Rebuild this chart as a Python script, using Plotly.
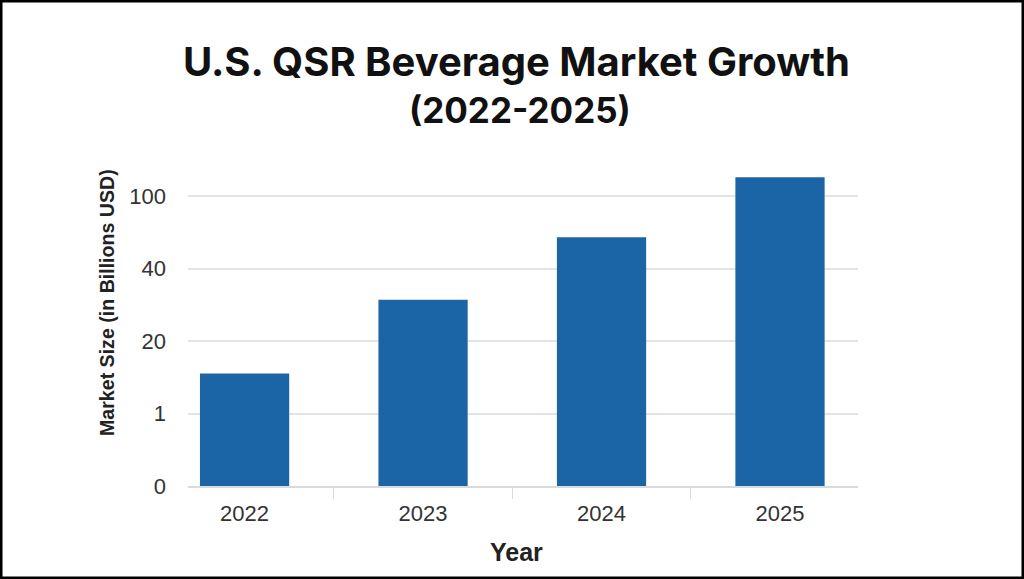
import plotly.graph_objects as go

years = ["2022", "2023", "2024", "2025"]
# Heights on the chart's evenly spaced (non-linear) axis: position 0,1,2,3,4 = labels 0,1,20,40,100
bar_positions = [1.55, 2.57, 3.43, 4.26]
tick_positions = [0, 1, 2, 3, 4]
tick_labels = ["0", "1", "20", "40", "100"]

W, H = 1024, 579
fig = go.Figure(go.Bar(x=years, y=bar_positions, width=0.5, marker=dict(color="#1B64A6", line=dict(width=0))))

fig.update_layout(
    template="none",
    width=W, height=H, autosize=False,
    margin=dict(l=0, r=0, t=0, b=0, pad=0),
    paper_bgcolor="white", plot_bgcolor="white",
    showlegend=False,
    title=dict(
        text="<b>U.S. QSR Beverage Market Growth</b>",
        x=516.5 / W, xanchor="center", y=1 - 62 / H, yanchor="middle",
        font=dict(family="Inter, Roboto, sans-serif", size=40, color="#111111"),
    ),
    font=dict(family="Liberation Sans, Arial, sans-serif", color="#333333"),
    xaxis=dict(
        domain=[188 / W, 858 / W], type="category", automargin=False,
        range=[-0.317, 3.437],
        tickson="boundaries", ticks="outside", ticklen=11, tickwidth=1, tickcolor="#DADADA",
        showline=True, linecolor="#DADADA", linewidth=2, showgrid=False,
        tickfont=dict(size=22, color="#333333"), ticklabelstandoff=7,
        fixedrange=True,
    ),
    yaxis=dict(
        domain=[1 - 486 / H, 1 - 167 / H], automargin=False,
        range=[0, 4.4],
        tickmode="array", tickvals=tick_positions, ticktext=tick_labels,
        showgrid=True, gridcolor="#E4E4E4", gridwidth=2, zeroline=False, showline=False,
        ticks="", ticklabelstandoff=21,
        tickfont=dict(size=22, color="#333333"),
        fixedrange=True,
    ),
)
text_items = [
    dict(text="<b>(2022-2025)</b>", x=519.5, y=110, size=35, color="#111111", family="Inter, Roboto, sans-serif", angle=0),
    dict(text="<b>Year</b>", x=516, y=552, size=25, color="#222222", family="Liberation Sans, Arial, sans-serif", angle=0),
    dict(text="<b>Market Size (in Billions USD)</b>", x=107, y=303, size=19.6, color="#222222", family="Liberation Sans, Arial, sans-serif", angle=-90),
]
for t in text_items:
    fig.add_annotation(text=t["text"], xref="paper", yref="paper", x=t["x"] / W, y=1 - t["y"] / H,
                       xanchor="center", yanchor="middle", showarrow=False, textangle=t["angle"],
                       font=dict(size=t["size"], color=t["color"], family=t["family"]))
fig.add_shape(type="rect", xref="paper", yref="paper", x0=0, x1=1, y0=0, y1=1,
              line=dict(color="#000000", width=5), fillcolor="rgba(0,0,0,0)", layer="above")

fig.write_html("out.html", config=dict(displayModeBar=False),
               post_script="document.body.style.margin='0';document.body.style.overflow='hidden';")
